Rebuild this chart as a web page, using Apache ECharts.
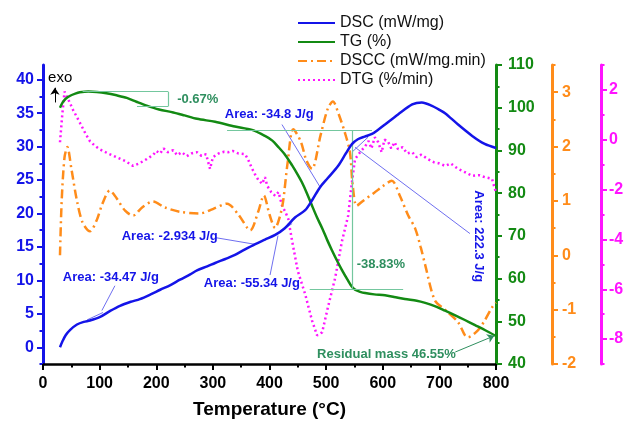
<!DOCTYPE html>
<html>
<head>
<meta charset="utf-8">
<script src="https://cdn.jsdelivr.net/npm/echarts@6/dist/echarts.min.js"></script>
<style>
html, body { margin: 0; padding: 0; background: #fff; }
#chart { width: 630px; height: 424px; }
</style>
</head>
<body>
<div id="chart"></div>
<script>
// DSC (mW/mg), left axis
var dscTemp = [30, 35, 40, 48, 60, 72, 83, 100, 118, 136, 155, 171, 190, 207, 225, 242, 260, 272, 290, 304,
    322, 339, 356, 374, 392, 410, 427, 445, 463, 476, 489, 503, 521, 535, 546, 556, 568, 581, 593, 604,
    627, 652, 669, 687, 700, 710, 733, 758, 780, 800];
var dscVal = [0, 1.0, 1.8, 2.6, 3.4, 3.8, 4.0, 4.5, 5.4, 6.2, 6.8, 7.2, 7.9, 8.6, 9.3, 10.1, 10.9, 11.5, 12.1, 12.6,
    13.2, 13.8, 14.6, 15.4, 16.1, 16.8, 17.8, 19.4, 20.5, 22.1, 23.9, 25.3, 27.1, 29.0, 30.4, 31.1, 31.5, 31.9, 32.6, 33.3,
    34.8, 36.3, 36.6, 36.1, 35.5, 35.0, 33.3, 31.6, 30.4, 29.8];

// TG (%)
var tgTemp = [30, 35, 40, 48, 57, 65, 80, 95, 112, 130, 148, 165, 183, 205, 230, 250, 272, 304, 339, 369,
    392, 405, 415, 428, 440, 450, 457, 466, 475, 484, 493, 502, 510, 520, 528, 538, 546, 551, 560, 569,
    585, 604, 620, 639, 660, 675, 693, 710, 728, 745, 763, 781, 800];
var tgVal = [100.0, 101.3, 102.1, 102.8, 103.3, 103.6, 103.8, 103.7, 103.4, 102.9, 102.3, 101.4, 100.5, 99.6, 98.9, 98.2, 97.4, 96.7, 95.6, 94.8,
    93.4, 92.3, 90.9, 88.9, 86.5, 84.3, 82.6, 80.0, 77.1, 74.3, 71.8, 69.0, 66.7, 64.0, 62.0, 59.7, 58.0, 57.4, 56.9, 56.6,
    56.3, 56.1, 55.7, 55.2, 54.8, 54.3, 53.5, 52.5, 51.4, 50.3, 49.1, 47.9, 46.55];

// DSCC (mW/mg.min)
var dsccTemp = [30, 33, 38, 43, 50, 60, 70, 83, 95, 105, 118, 130, 145, 159, 175, 194, 215, 242, 277, 300,
    325, 345, 366, 380, 390, 400, 410, 418, 424, 432, 442, 455, 465, 475, 490, 503, 512, 522, 533, 542,
    547, 554, 565, 585, 600, 616, 630, 645, 657, 667, 675, 692, 710, 733, 745, 750, 768, 780, 793, 800];
var dsccVal = [0.0, 1.0, 1.8, 1.99, 1.6, 1.0, 0.6, 0.44, 0.65, 0.95, 1.19, 1.05, 0.82, 0.73, 0.88, 0.99, 0.88, 0.8, 0.77, 0.85,
    0.95, 0.75, 0.46, 0.8, 1.1, 0.75, 0.5, 0.7, 0.99, 1.7, 2.32, 2.1, 1.75, 1.59, 2.2, 2.7, 2.83, 2.6, 2.26, 1.9,
    1.28, 0.91, 1.0, 1.15, 1.27, 1.37, 1.1, 0.73, 0.5, 0.15, -0.18, -0.83, -1.0, -1.23, -1.47, -1.51, -1.38, -1.2, -0.96, -0.87];

// DTG (%/min)
var dtgTemp = [30, 34, 38, 45, 53, 65, 75, 83, 92, 100, 115, 130, 145, 159, 170, 183, 195, 200, 207, 213,
    220, 230, 237, 245, 254, 262, 272, 280, 288, 295, 300, 310, 320, 327, 335, 345, 357, 362, 368, 374,
    380, 387, 392, 396, 403, 410, 416, 422, 428, 433, 440, 450, 463, 475, 484, 493, 503, 516, 528, 539,
    545, 551, 560, 569, 575, 580, 586, 592, 598, 603, 609, 615, 621, 627, 635, 643, 652, 660, 668, 680,
    690, 700, 710, 720, 733, 745, 758, 770, 780, 793, 798, 800];
var dtgVal = [-0.1, 1.0, 1.93, 1.6, 1.2, 0.69, 0.25, -0.06, -0.25, -0.38, -0.55, -0.7, -0.85, -1.05, -0.95, -0.78, -0.6, -0.45, -0.55, -0.35,
    -0.5, -0.42, -0.62, -0.5, -0.66, -0.55, -0.5, -0.65, -0.58, -1.17, -0.7, -0.55, -0.48, -0.5, -0.45, -0.55, -0.58, -0.78, -1.1, -1.37,
    -1.6, -1.77, -1.5, -1.85, -2.1, -2.25, -2.1, -2.64, -2.9, -3.16, -4.07, -5.27, -6.2, -7.25, -7.85, -7.73, -6.74, -5.54, -4.07, -3.04,
    -1.8, -0.78, -0.5, -0.26, -0.05, -0.35, 0.1, -0.1, -0.5, 0.0, -0.06, -0.35, -0.1, -0.38, -0.3, -0.55, -0.5, -0.7, -0.6, -0.78,
    -0.9, -0.95, -1.05, -0.95, -1.17, -1.3, -1.45, -1.42, -1.5, -1.57, -1.97, -2.1];

// axis ticks
var dscTicks = [0, 5, 10, 15, 20, 25, 30, 35, 40];
var dscMinor = [-2.5, 2.5, 7.5, 12.5, 17.5, 22.5, 27.5, 32.5, 37.5];
var dsccTicks = [-2, -1, 0, 1, 2, 3];
var dsccMinor = [-1.5, -0.5, 0.5, 1.5, 2.5, 3.5];
var dtgTicks = [-8, -6, -4, -2, 0, 2];
var dtgMinor = [-9, -7, -5, -3, -1, 1, 3];

// annotations (temperature, axis value)
var exoArrow = [[21, 36.6], [21, 38.8]];
var dscLeaders = [
    [[422, 33.3], [489, 24.0]],
    [[551, 29.9], [754, 17.0]],
    [[546, 29.2], [574, 31.4]],
    [[304, 16.4], [374, 15.4]],
    [[401, 10.8], [415, 16.7]],
    [[410, 16.7], [440, 18.5]],
    [[127, 9.2], [104, 5.5]],
    [[78, 4.1], [106, 5.2]]
];
var areaLabels = ['Area: -34.8 J/g', 'Area: 222.3 J/g', 'Area: -2.934 J/g', 'Area: -55.34 J/g', 'Area: -34.47 J/g'];
var areaAt = [[321, 34.8], [770, 16.6], [139, 16.6], [284, 9.5], [35, 10.4]];
var tgSteps = [
    [[70, 103.75], [221, 103.75]],
    [[166, 100.3], [221, 100.3]],
    [[221, 103.75], [221, 100.3]],
    [[325, 94.7], [581, 94.7]],
    [[546, 94.7], [546, 57.6]],
    [[471, 57.6], [636, 57.6]]
];
var residualArrow = [[728, 42.8], [797, 46.6]];
var tgLabels = ['-0.67%', '-38.83%', 'Residual mass 46.55%'];
var tgLabelAt = [[237, 101.9], [554, 63.2], [484, 42.3]];

var BLUE = '#1414e8', GREEN = '#138a13', ORANGE = '#ff8c1a', MAGENTA = '#ff14ff';
var NOTE_GREEN = '#2f8f5f', NOTE_LINE = '#74c79e', LEADER = '#6f6ff0';
var FONT = 'Liberation Sans, Arial, sans-serif';

function pairs(xs, ys) {
    var out = [];
    for (var i = 0; i < xs.length; i++) out.push([xs[i], ys[i]]);
    return out;
}
function segs(list, style, ends) {
    return list.map(function (s) {
        return [
            { coord: s[0], symbol: 'none', lineStyle: style },
            { coord: s[1], symbol: ends || 'none' }
        ];
    });
}

function mainAxis(color, min, max, ticks, pos, offset, margin) {
    return {
        type: 'value', position: pos, offset: offset, min: min, max: max,
        axisLine: { show: true, onZero: false, lineStyle: { color: color, width: 3 } },
        axisTick: { show: true, inside: false, length: 6, customValues: ticks, lineStyle: { color: color, width: 2 } },
        axisLabel: { customValues: ticks, color: color, fontSize: 16, fontWeight: 'bold', fontFamily: FONT, margin: margin },
        splitLine: { show: false }
    };
}
function minorAxis(color, min, max, ticks, pos, offset) {
    return {
        type: 'value', position: pos, offset: offset, min: min, max: max,
        axisLine: { show: false, onZero: false },
        axisTick: { show: true, length: 3.5, customValues: ticks, lineStyle: { color: color, width: 2 } },
        axisLabel: { show: false },
        splitLine: { show: false }
    };
}

var chart = echarts.init(document.getElementById('chart'));

var option = {
    animation: false,
    backgroundColor: '#fff',
    grid: { left: 43, right: 134, top: 65, bottom: 57, containLabel: false },
    legend: {
        orient: 'vertical', left: 297, top: 15, padding: 0, itemGap: 3,
        itemWidth: 37, itemHeight: 14,
        itemStyle: { opacity: 0 },
        textStyle: { fontSize: 16, color: '#111', fontFamily: FONT },
        data: ['DSC (mW/mg)', 'TG (%)', 'DSCC (mW/mg.min)', 'DTG (%/min)']
    },
    xAxis: {
        type: 'value', min: 0, max: 800, interval: 100,
        name: 'Temperature (°C)', nameLocation: 'middle', nameGap: 36,
        nameTextStyle: { fontSize: 19, fontWeight: 'bold', color: '#000', fontFamily: FONT },
        axisLine: { onZero: false, lineStyle: { color: '#000', width: 2.5 } },
        axisTick: { length: 6, lineStyle: { color: '#000', width: 2 } },
        minorTick: { show: true, splitNumber: 2, length: 3.5, lineStyle: { color: '#000', width: 2 } },
        axisLabel: { color: '#000', fontSize: 16, fontWeight: 'bold', fontFamily: FONT, margin: 12 },
        splitLine: { show: false }
    },
    yAxis: [
        mainAxis(BLUE, -2.5, 42.2, dscTicks, 'left', 0, 9),
        minorAxis(BLUE, -2.5, 42.2, dscMinor, 'left', 0),
        {
            type: 'value', position: 'right', offset: 0, min: 40, max: 110, interval: 10,
            axisLine: { show: true, onZero: false, lineStyle: { color: GREEN, width: 3 } },
            axisTick: { length: 6, lineStyle: { color: GREEN, width: 2 } },
            minorTick: { show: true, splitNumber: 2, length: 3.5, lineStyle: { color: GREEN, width: 2 } },
            axisLabel: { color: GREEN, fontSize: 16, fontWeight: 'bold', fontFamily: FONT, margin: 12 },
            splitLine: { show: false }
        },
        mainAxis(ORANGE, -2, 3.5, dsccTicks, 'right', 56, 10),
        minorAxis(ORANGE, -2, 3.5, dsccMinor, 'right', 56),
        mainAxis(MAGENTA, -9, 3, dtgTicks, 'right', 105, 8),
        minorAxis(MAGENTA, -9, 3, dtgMinor, 'right', 105)
    ],
    series: [
        {
            name: 'DSC (mW/mg)', type: 'line', yAxisIndex: 0, symbol: 'none', smooth: 0.3,
            data: pairs(dscTemp, dscVal), color: BLUE,
            lineStyle: { color: BLUE, width: 2.5 }, z: 5,
            markLine: {
                silent: true, symbol: ['none', 'none'], symbolSize: 7,
                label: { show: false },
                data: segs(dscLeaders, { color: LEADER, width: 1, type: 'solid' })
                    .concat(segs([exoArrow], { color: '#000', width: 1, type: 'solid' }, 'arrow'))
            },
            markPoint: {
                silent: true, symbol: 'circle', symbolSize: 0,
                data: areaLabels.map(function (t, i) {
                    var rotated = i === 1;
                    return {
                        coord: areaAt[i], value: 0,
                        label: {
                            show: true, formatter: t, color: BLUE, fontSize: 13, fontWeight: 'bold', fontFamily: FONT,
                            position: rotated ? 'inside' : 'right', distance: 0, rotate: rotated ? -90 : 0
                        }
                    };
                }).concat([{
                    coord: [9, 40.3], value: 0,
                    label: { show: true, formatter: 'exo', color: '#000', fontSize: 15, fontFamily: FONT, position: 'right', distance: 0 }
                }])
            }
        },
        {
            name: 'TG (%)', type: 'line', yAxisIndex: 2, symbol: 'none', smooth: 0.3,
            data: pairs(tgTemp, tgVal), color: GREEN,
            lineStyle: { color: GREEN, width: 2.5 }, z: 4,
            markLine: {
                silent: true, symbol: ['none', 'none'], symbolSize: 7,
                label: { show: false },
                data: segs(tgSteps, { color: NOTE_LINE, width: 1.2, type: 'solid' })
                    .concat(segs([residualArrow], { color: NOTE_GREEN, width: 1, type: 'solid' }, 'arrow'))
            },
            markPoint: {
                silent: true, symbol: 'circle', symbolSize: 0,
                data: tgLabels.map(function (t, i) {
                    return {
                        coord: tgLabelAt[i], value: 0,
                        label: { show: true, formatter: t, color: NOTE_GREEN, fontSize: 13, fontWeight: 'bold', fontFamily: FONT, position: 'right', distance: 0 }
                    };
                })
            }
        },
        {
            name: 'DSCC (mW/mg.min)', type: 'line', yAxisIndex: 3, symbol: 'none', smooth: 0.3,
            data: pairs(dsccTemp, dsccVal), color: ORANGE,
            lineStyle: { color: ORANGE, width: 2.5, type: [9, 4, 2, 4] }, z: 3
        },
        {
            name: 'DTG (%/min)', type: 'line', yAxisIndex: 5, symbol: 'none',
            data: pairs(dtgTemp, dtgVal), color: MAGENTA,
            lineStyle: { color: MAGENTA, width: 2.5, type: [2, 3] }, z: 2
        }
    ]
};
chart.setOption(option);
</script>
</body>
</html>
